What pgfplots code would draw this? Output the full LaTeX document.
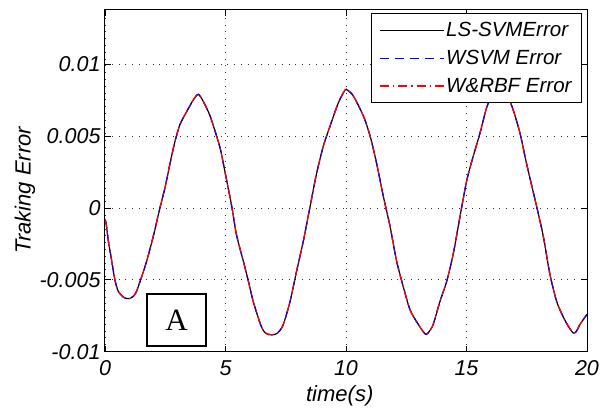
\documentclass[border=0pt]{standalone}
\usepackage{pgfplots}
\pgfplotsset{compat=1.18}
\usepackage{pgfplotstable}
\usepackage{fontspec}
\setmainfont{Liberation Sans}
\newfontfamily\serifA{Liberation Serif}
\pgfplotstableread{
t v
0.00 -0.0008
0.05 -0.0011
0.14 -0.0023
0.28 -0.0037
0.41 -0.0050
0.55 -0.0058
0.76 -0.0062
0.90 -0.0063
1.04 -0.0063
1.20 -0.0061
1.31 -0.0058
1.52 -0.0048
1.73 -0.0037
2.00 -0.0020
2.28 0.0000
2.49 0.0014
2.70 0.0031
2.90 0.0046
3.11 0.0058
3.39 0.0067
3.66 0.0075
3.87 0.0079
4.08 0.0074
4.36 0.0064
4.63 0.0050
4.80 0.0040
5.05 0.0019
5.26 0.0001
5.46 -0.0019
5.74 -0.0037
5.95 -0.0051
6.15 -0.0065
6.43 -0.0080
6.60 -0.0086
6.78 -0.0088
7.05 -0.0088
7.22 -0.0086
7.40 -0.0081
7.68 -0.0065
7.95 -0.0044
8.23 -0.0023
8.51 0.0001
8.78 0.0024
9.06 0.0043
9.34 0.0057
9.68 0.0073
9.96 0.0082
10.05 0.0082
10.30 0.0078
10.72 0.0064
11.00 0.0050
11.27 0.0031
11.55 0.0008
11.83 -0.0013
12.10 -0.0037
12.38 -0.0055
12.66 -0.0071
13.00 -0.0081
13.20 -0.0086
13.32 -0.0088
13.45 -0.0086
13.62 -0.0081
13.90 -0.0065
14.18 -0.0051
14.45 -0.0032
14.73 -0.0006
15.01 0.0019
15.28 0.0036
15.56 0.0052
15.84 0.0070
16.10 0.0079
16.40 0.0083
16.70 0.0078
16.94 0.0068
17.22 0.0052
17.49 0.0031
17.91 0.0001
18.19 -0.0020
18.46 -0.0046
18.74 -0.0065
19.02 -0.0076
19.25 -0.0083
19.43 -0.0087
19.55 -0.0086
19.71 -0.0081
20.00 -0.0074
}\errdata
\begin{document}
\begin{tikzpicture}
\path (0pt,0pt) rectangle (608pt,405pt);
\begin{axis}[
  at={(105pt,53.3pt)}, anchor=south west,
  scale only axis, width=482pt, height=342.2pt,
  xmin=0, xmax=20, ymin=-0.01, ymax=0.0138,
  xtick={0,5,10,15,20}, xticklabels={0,5,10,15,20},
  ytick={-0.01,-0.005,0,0.005,0.01},
  yticklabels={-0.01,-0.005,0,0.005,0.01},
  scaled y ticks=false,
  tick align=inside, xtick pos=both, ytick pos=both,
  major tick length=6pt,
  tick style={black, line width=0.8pt},
  axis line style={black, line width=1pt},
  grid=major,
  major grid style={black!80, line width=0.7pt, dash pattern=on 0.8pt off 6pt},
  ticklabel style={font=\fontsize{21.5}{23}\selectfont\itshape},
  xticklabel style={yshift=-5pt},
  yticklabel style={xshift=-1pt},
  xlabel={time(s)}, ylabel={Traking Error},
  label style={font=\fontsize{22}{24}\selectfont\itshape},
  xlabel style={at={(axis description cs:0.487,-0.128)}, anchor=center},
  ylabel style={at={(axis description cs:-0.166,0.472)}, anchor=center},
  legend style={at={(rel axis cs:1,1)}, anchor=north east, xshift=-5pt, yshift=-3.5pt,
    font=\fontsize{20.5}{23}\selectfont\itshape, draw=black, line width=1pt,
    fill=white, inner xsep=8pt, inner ysep=7pt, row sep=8pt, cells={anchor=west}},
  legend image code/.code={\draw[#1] (0pt,0pt) -- (64pt,0pt);},
]
\addplot[black, line width=1.2pt, smooth, tension=0.45] table[x=t,y=v] {\errdata};
\addplot[blue, line width=1.2pt, dash pattern=on 9pt off 6pt, smooth, tension=0.45] table[x=t,y=v] {\errdata};
\addplot[red, line width=1.2pt, dash pattern=on 9pt off 4pt on 1.5pt off 4pt, smooth, tension=0.45] table[x=t,y=v] {\errdata};
\legend{LS-SVMError, WSVM Error, W\&RBF Error}
\node[draw=black, line width=1.3pt, fill=white, minimum width=59pt, minimum height=52pt,
  inner sep=0pt, font=\serifA\fontsize{31}{33}\selectfont] at (axis cs:2.97,-0.0078) {A};
\end{axis}
\end{tikzpicture}
\end{document}
